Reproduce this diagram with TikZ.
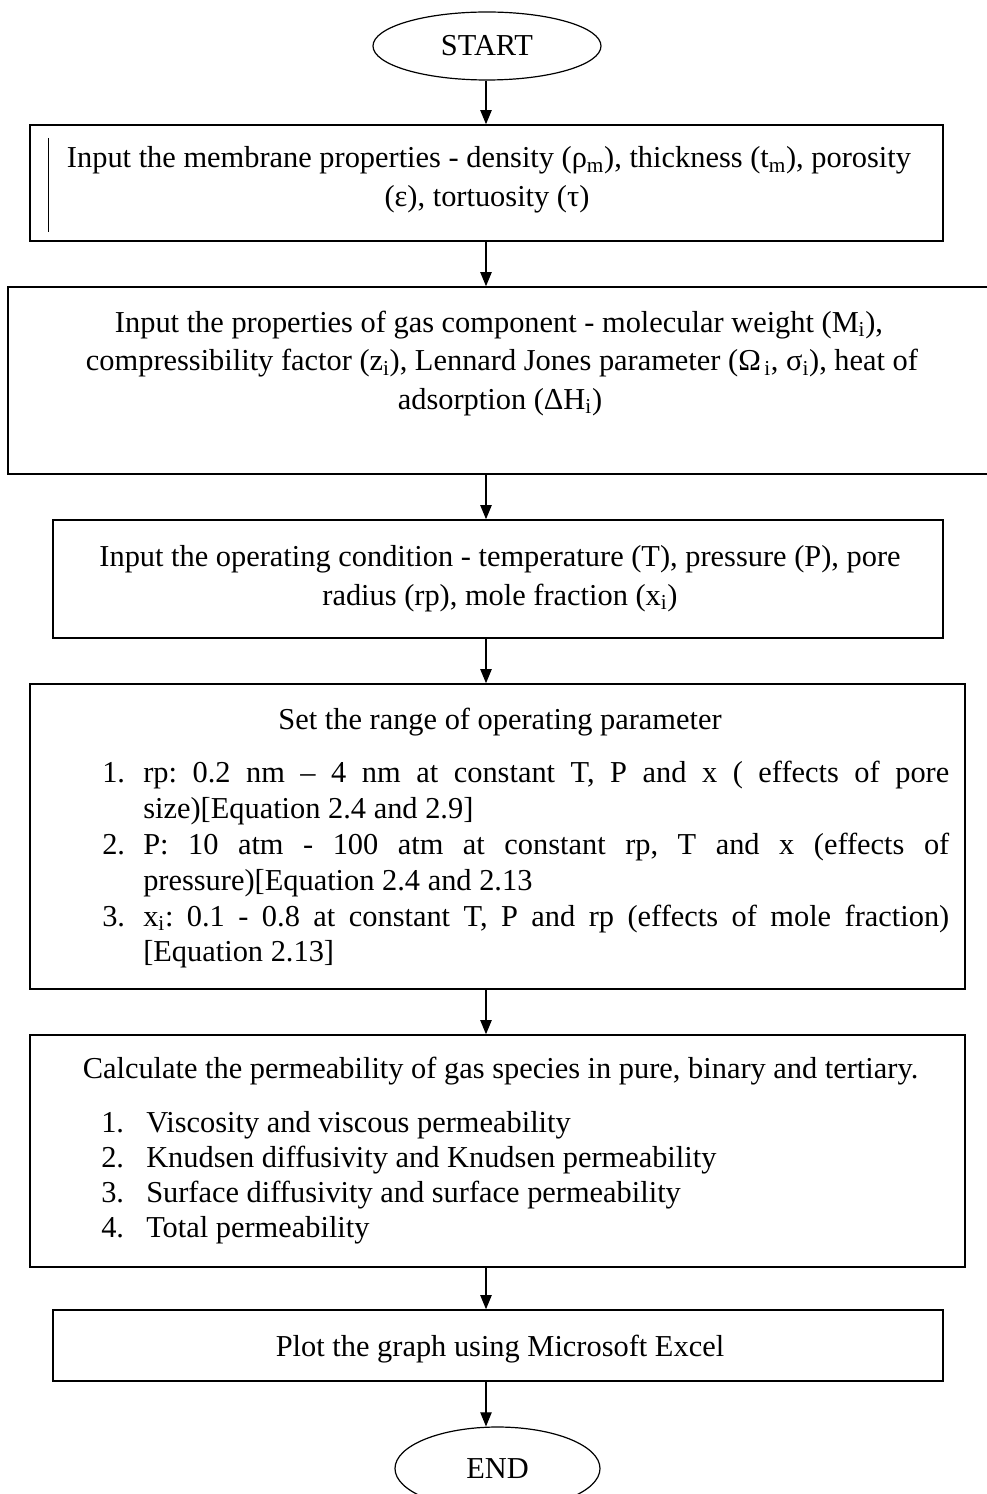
\documentclass[tikz,border=0pt]{standalone}
\usepackage{fontspec}
\setmainfont{Liberation Serif}
\usetikzlibrary{arrows.meta,shapes.geometric,fit}
\begin{document}
\frenchspacing
\begin{tikzpicture}[x=0.75pt,y=-0.75pt,
  box/.style={draw,line width=1.2pt,inner sep=0pt,rectangle},
  oval/.style={draw,line width=0.9pt,ellipse,inner sep=0pt,font=\fontsize{22.8}{27}\selectfont},
  txt/.style={inner sep=0pt,anchor=base,font=\fontsize{22.8}{27}\selectfont},
  num/.style={inner sep=0pt,anchor=base west,font=\fontsize{22.8}{27}\selectfont},
  arr/.style={line width=0.8pt,-{Triangle[length=10.5pt,width=8.5pt]}}]
\useasboundingbox (0,0) rectangle (986,1494);
\coordinate (ax) at (486,0);
% START
\node[oval,minimum width=171pt,minimum height=51pt] (start) at (487,46) {START};
% Box 1
\node[box,fit={(30,125)(943,241)}] (b1) {};
\draw[line width=0.5pt] (48,138) -- (48,232);
\node[txt] (t1a) at (489,168) {Input the membrane properties - density (ρ\textsubscript{m}), thickness (t\textsubscript{m}), porosity};
\node[txt] (t1b) at (487,207) {(ε), tortuosity (τ)};
% Box 2
\node[box,fit={(8,287)(998,474)}] (b2) {};
\node[txt] (t2a) at (499,332) {Input the properties of gas component - molecular weight (M\textsubscript{i}),};
\node[txt] (t2b) at (502,370.5) {compressibility factor (z\textsubscript{i}), Lennard Jones parameter (Ω\textsubscript{\,i}, σ\textsubscript{i}), heat of};
\node[txt] (t2c) at (500,409) {adsorption (ΔH\textsubscript{i})};
% Box 3
\node[box,fit={(53,520)(943,638)}] (b3) {};
\node[txt] (t3a) at (500,566) {Input the operating condition - temperature (T), pressure (P), pore};
\node[txt] (t3b) at (500,605) {radius (rp), mole fraction (x\textsubscript{i})};
% Box 4
\node[box,fit={(30,684)(965,989)}] (b4) {};
\node[txt] (t4) at (500,729) {Set the range of operating parameter};
\node[num] (n41) at (102,782) {1.};
\node[num] (l41a) at (143,782) {\makebox[604.5pt][s]{rp: 0.2 nm – 4 nm at constant T, P and x ( effects of pore}};
\node[num] (l41b) at (143,818) {size)[Equation 2.4 and 2.9]};
\node[num] (n42) at (102,854) {2.};
\node[num] (l42a) at (143,854) {\makebox[604.5pt][s]{P: 10 atm - 100 atm at constant rp, T and x (effects of}};
\node[num] (l42b) at (143,890) {pressure)[Equation 2.4 and 2.13};
\node[num] (n43) at (102,926) {3.};
\node[num] (l43a) at (143,926) {\makebox[604.5pt][s]{x\textsubscript{i}: 0.1 - 0.8 at constant T, P and rp (effects of mole fraction)}};
\node[num] (l43b) at (143,961) {[Equation 2.13]};
% Box 5
\node[box,fit={(30,1035)(965,1267)}] (b5) {};
\node[txt] (t5) at (500.5,1078) {Calculate the permeability of gas species in pure, binary and tertiary.};
\node[num] (n51) at (101,1132) {1.};
\node[num] (l51) at (146,1132) {Viscosity and viscous permeability};
\node[num] (n52) at (101,1167) {2.};
\node[num] (l52) at (146,1167) {Knudsen diffusivity and Knudsen permeability};
\node[num] (n53) at (101,1202) {3.};
\node[num] (l53) at (146,1202) {Surface diffusivity and surface permeability};
\node[num] (n54) at (101,1237) {4.};
\node[num] (l54) at (146,1237) {Total permeability};
% Box 6
\node[box,fit={(53,1310)(943,1381)}] (b6) {};
\node[txt] (t6) at (500,1356) {Plot the graph using Microsoft Excel};
% END
\node[oval,minimum width=153.75pt,minimum height=62.25pt] (end) at (497.5,1468.5) {END};
% arrows
\draw[arr] (start.south -| ax) -- (b1.north -| ax);
\draw[arr] (b1.south -| ax) -- (b2.north -| ax);
\draw[arr] (b2.south -| ax) -- (b3.north -| ax);
\draw[arr] (b3.south -| ax) -- (b4.north -| ax);
\draw[arr] (b4.south -| ax) -- (b5.north -| ax);
\draw[arr] (b5.south -| ax) -- (b6.north -| ax);
\draw[arr] (b6.south -| ax) -- (end.north -| ax);
\end{tikzpicture}
\end{document}
